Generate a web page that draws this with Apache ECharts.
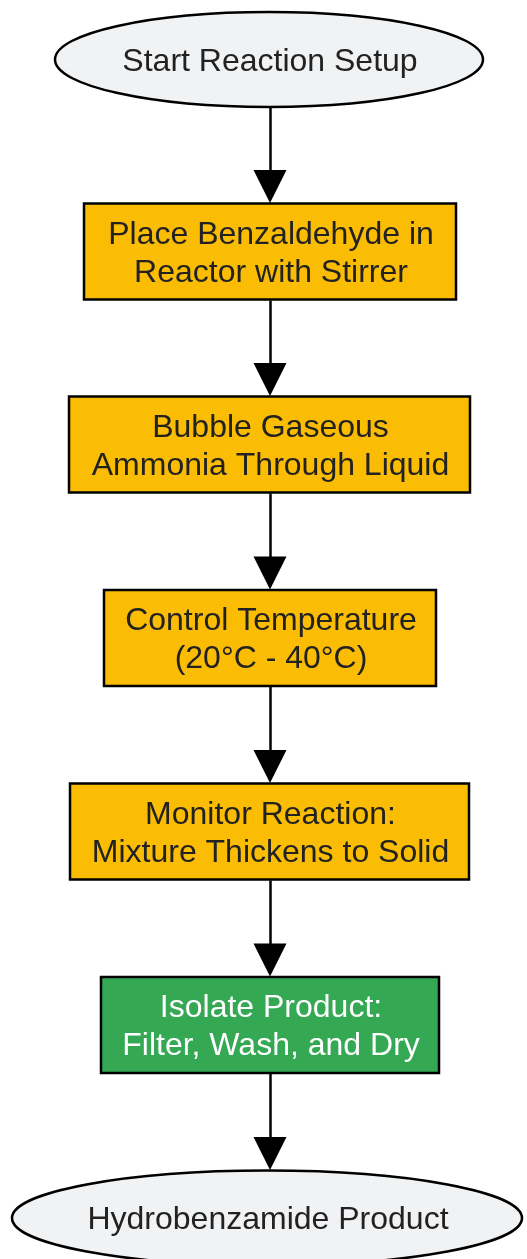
<!DOCTYPE html>
<html>
<head>
<meta charset="utf-8">
<script src="https://cdn.jsdelivr.net/npm/echarts@6/dist/echarts.min.js"></script>
<style>
html, body { margin: 0; padding: 0; background: #fff; }
#chart-container { width: 527px; height: 1259px; }
</style>
</head>
<body>
<div id="chart-container"></div>
<script>
// flow steps, top to bottom
var steps = [
	'Start Reaction Setup',
	'Place Benzaldehyde in\nReactor with Stirrer',
	'Bubble Gaseous\nAmmonia Through Liquid',
	'Control Temperature\n(20°C - 40°C)',
	'Monitor Reaction:\nMixture Thickens to Solid',
	'Isolate Product:\nFilter, Wash, and Dry',
	'Hydrobenzamide Product'
];
var kinds = ['terminal', 'process', 'process', 'process', 'process', 'final', 'terminal'];

// layout (pixels)
var centerX = [269, 270, 269.5, 270, 269.5, 270, 267];
var centerY = [59.5, 251.5, 444.5, 638, 831.5, 1025, 1218];
var boxW = [428, 372, 401, 332, 399, 338, 510];
var boxH = [95, 96, 96, 96, 96, 96, 95];

var fills = { terminal: '#f1f2f4', process: '#fbbc04', final: '#34a853' };
var textColors = { terminal: '#222', process: '#222', final: '#fff' };

var nodes = steps.map(function (s, i) {
	return { name: s, value: [centerX[i], centerY[i]] };
});

var arrows = [];
for (var i = 0; i < steps.length - 1; i++) {
	var y0 = centerY[i] + boxH[i] / 2 + 1;
	var y1 = centerY[i + 1] - boxH[i + 1] / 2 - 1 - 16;
	arrows.push({ coords: [[270, y0], [270, y1]] });
}

function renderNode(params, api) {
	var i = params.dataIndex;
	var p = api.coord([api.value(0), api.value(1)]);
	var k = kinds[i];
	var w = boxW[i], h = boxH[i];
	var shape;
	if (k == 'terminal') {
		shape = {
			type: 'ellipse',
			shape: { cx: p[0], cy: p[1], rx: w / 2, ry: h / 2 }
		};
	} else {
		shape = {
			type: 'rect',
			shape: { x: p[0] - w / 2, y: p[1] - h / 2, width: w, height: h }
		};
	}
	shape.style = { fill: fills[k], stroke: '#000', lineWidth: 2.5 };
	return {
		type: 'group',
		children: [
			shape,
			{
				type: 'text',
				style: {
					text: steps[i],
					x: p[0] + 1,
					y: p[1] + 2.5,
					align: 'center',
					verticalAlign: 'middle',
					fontFamily: 'Liberation Sans, Arial, sans-serif',
					fontSize: 32,
					lineHeight: 38,
					fill: textColors[k]
				}
			}
		]
	};
}

var dom = document.getElementById('chart-container');
var myChart = echarts.init(dom, null, { renderer: 'canvas' });

var option = {
	animation: false,
	backgroundColor: '#fff',
	grid: { left: 0, right: 0, top: 0, bottom: 0 },
	xAxis: { type: 'value', min: 0, max: 527, show: false },
	yAxis: { type: 'value', min: 0, max: 1259, inverse: true, show: false },
	series: [
		{
			type: 'lines',
			coordinateSystem: 'cartesian2d',
			symbol: ['none', 'triangle'],
			symbolSize: [22, 33],
			lineStyle: { color: '#000', width: 2.5, opacity: 1 },
			z: 1,
			data: arrows
		},
		{
			type: 'custom',
			coordinateSystem: 'cartesian2d',
			clip: false,
			z: 2,
			renderItem: renderNode,
			data: nodes
		}
	]
};

myChart.setOption(option);
window.addEventListener('resize', myChart.resize);
</script>
</body>
</html>
